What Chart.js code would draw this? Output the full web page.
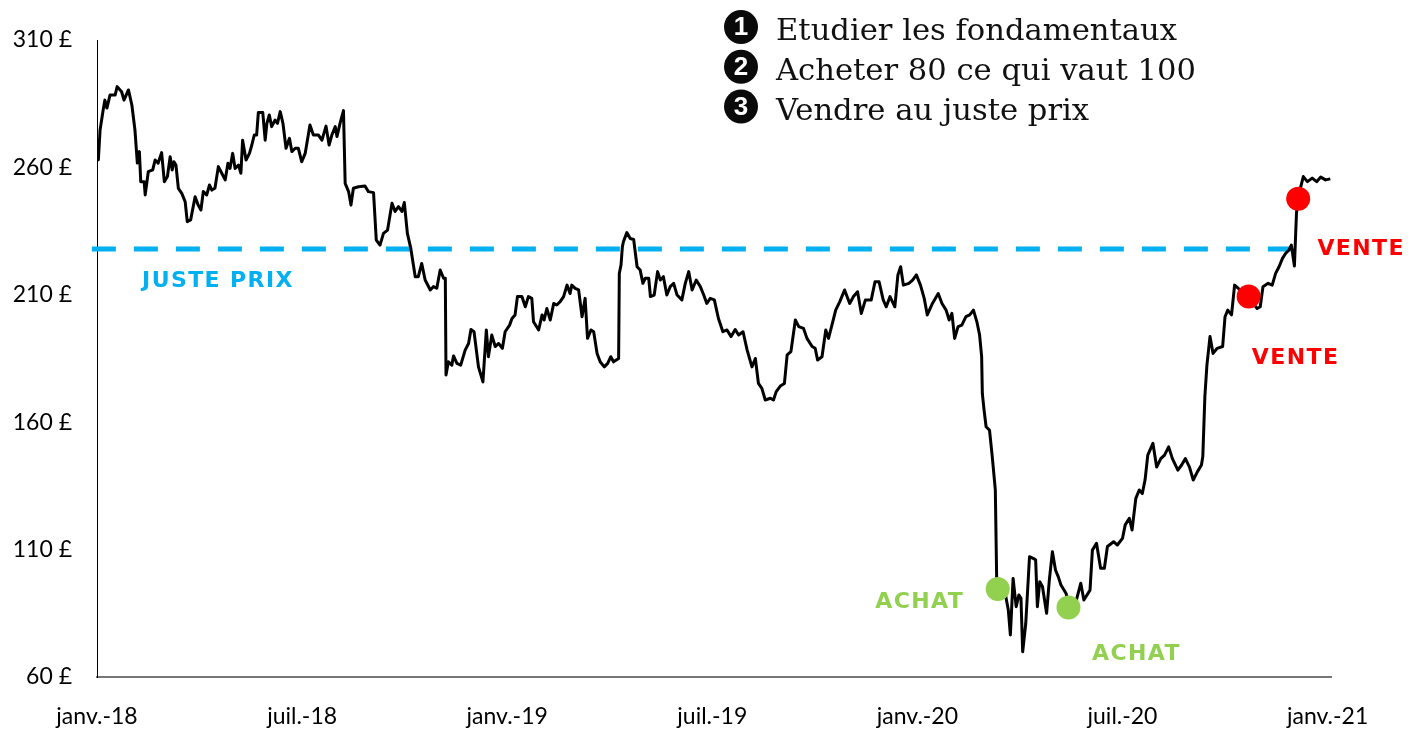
<!DOCTYPE html>
<html>
<head>
<meta charset="utf-8">
<script src="https://cdn.jsdelivr.net/npm/chart.js@4.4.1/dist/chart.umd.min.js"></script>
<style>
html,body{margin:0;padding:0;background:#fff;}
#wrap{width:1420px;height:730px;}
</style>
</head>
<body>
<div id="wrap"><canvas id="c" width="1420" height="730"></canvas></div>
<script>
// x = months since 1 Jan 2018, y = price in £
const months = [0.01,0.04,0.09,0.18,0.23,0.29,0.38,0.53,0.59,0.72,0.79,0.92,1.02,1.11,1.18,1.24,1.28,1.38,1.41,1.50,
1.63,1.70,1.79,1.89,1.97,2.06,2.14,2.20,2.25,2.31,2.38,2.48,2.58,2.64,2.74,2.87,2.96,3.04,3.11,3.21,
3.29,3.36,3.45,3.55,3.65,3.75,3.83,3.89,3.97,4.04,4.14,4.21,4.26,4.36,4.46,4.53,4.60,4.67,4.72,4.85,
4.92,4.97,5.04,5.11,5.21,5.28,5.36,5.44,5.53,5.63,5.70,5.80,5.89,5.99,6.09,6.23,6.33,6.48,6.58,6.70,
6.79,6.87,6.97,7.02,7.11,7.21,7.26,7.36,7.43,7.50,7.65,7.84,7.94,8.09,8.17,8.28,8.38,8.50,8.63,8.72,
8.82,8.92,8.99,9.08,9.18,9.31,9.40,9.50,9.60,9.75,9.84,9.94,10.04,10.14,10.19,10.21,10.28,10.38,10.43,10.53,
10.64,10.77,10.87,10.94,11.03,11.16,11.29,11.39,11.45,11.55,11.65,11.75,11.86,11.94,12.07,12.14,12.23,12.30,12.43,12.53,
12.62,12.72,12.77,12.92,13.02,13.08,13.16,13.26,13.36,13.45,13.55,13.65,13.75,13.84,13.89,13.99,14.09,14.19,14.28,14.35,
14.45,14.53,14.63,14.72,14.84,14.94,15.03,15.11,15.26,15.28,15.33,15.37,15.40,15.50,15.60,15.70,15.80,15.89,15.97,16.04,
16.14,16.19,16.30,16.40,16.48,16.57,16.67,16.77,16.87,16.97,17.11,17.21,17.31,17.41,17.53,17.65,17.75,17.84,17.94,18.06,
18.18,18.31,18.43,18.55,18.67,18.77,18.90,19.02,19.16,19.26,19.35,19.45,19.55,19.70,19.79,19.87,19.99,20.11,20.19,20.30,
20.43,20.53,20.67,20.77,20.92,21.01,21.08,21.21,21.32,21.40,21.50,21.61,21.73,21.87,22.02,22.13,22.25,22.36,22.48,22.65,
22.76,22.88,23.00,23.09,23.20,23.34,23.43,23.51,23.59,23.75,23.86,23.97,24.09,24.20,24.29,24.44,24.61,24.72,24.84,24.93,
25.01,25.09,25.19,25.30,25.42,25.53,25.64,25.74,25.82,25.88,25.90,25.95,26.01,26.11,26.19,26.28,26.32,26.36,26.57,26.66,
26.72,26.80,26.89,26.97,27.03,27.08,27.17,27.28,27.40,27.46,27.51,27.58,27.66,27.78,27.86,27.95,28.04,28.12,28.20,28.35,
28.44,28.64,28.78,28.87,29.05,29.12,29.24,29.36,29.47,29.56,29.74,29.85,30.00,30.08,30.20,30.28,30.39,30.49,30.58,30.66,
30.74,30.89,31.00,31.12,31.23,31.35,31.46,31.62,31.73,31.84,31.96,32.07,32.19,32.31,32.35,32.41,32.47,32.56,32.65,32.77,
32.93,33.00,33.08,33.19,33.28,33.39,33.54,33.74,33.94,34.03,34.11,34.26,34.38,34.48,34.58,34.68,34.77,34.87,34.94,35.03,
35.09,35.13,35.29,35.41,35.55,35.68,35.80,35.94,36.08];
const prices = [262.9,263.0,274.7,282.5,286.4,283.3,288.4,288.4,291.7,289.7,286.4,290.4,284.5,274.7,261.7,266.2,254.4,254.4,249.2,258.3,
259.0,262.9,261.7,265.8,254.4,256.4,264.2,259.0,262.2,260.9,251.8,249.8,246.5,238.7,239.4,248.5,245.2,243.3,250.5,249.2,
253.1,251.1,251.8,260.3,257.7,255.1,261.6,259.6,265.5,259.6,260.9,257.7,270.7,262.9,265.5,268.8,272.7,272.7,281.5,281.5,
270.7,277.3,280.6,276.0,278.6,277.3,281.9,277.3,267.5,271.4,266.2,267.5,267.5,262.2,265.5,276.6,272.7,272.7,270.7,276.2,
268.8,272.7,276.0,272.1,277.3,282.3,253.7,250.5,245.2,251.8,252.4,252.7,250.5,250.1,231.5,229.5,234.1,235.4,245.9,242.7,
244.6,242.7,246.2,234.1,228.2,217.1,217.1,222.3,215.8,211.9,213.2,212.6,219.7,216.5,216.5,178.5,183.7,182.4,186.0,183.1,
182.4,188.3,190.9,196.4,195.5,181.7,175.8,196.2,185.7,194.2,189.7,190.9,189.0,195.5,198.1,200.7,202.1,209.3,209.3,205.3,
209.3,208.6,199.4,196.2,202.1,200.1,204.6,200.1,206.6,206.0,207.3,209.3,213.8,210.5,213.8,212.5,211.9,201.4,208.6,192.9,
196.2,195.5,187.0,183.7,181.7,183.1,185.7,183.7,185.0,218.4,221.7,228.9,230.8,234.4,232.1,231.7,221.0,219.7,214.5,216.5,
216.5,209.3,209.9,219.1,215.8,217.1,209.9,213.2,214.5,209.9,208.0,214.5,219.1,211.9,215.8,213.2,209.9,206.6,208.6,208.0,
200.7,195.5,196.2,193.6,196.4,194.2,195.5,188.3,181.7,185.0,175.2,173.3,168.7,169.4,168.7,172.0,174.2,175.2,186.4,187.7,
200.1,197.5,196.8,192.9,189.7,189.0,184.4,185.7,196.2,192.9,198.1,204.0,207.3,211.9,206.6,209.3,211.2,202.7,208.0,208.0,
215.1,215.1,208.0,205.3,209.3,205.3,217.8,221.0,213.8,214.5,215.8,217.8,213.8,208.6,202.1,206.6,210.5,206.6,204.0,200.1,
202.7,192.9,197.5,198.1,201.4,202.1,204.0,199.4,194.2,185.7,171.3,164.8,158.2,156.9,146.5,133.4,98.1,95.4,92.8,86.3,
76.5,98.7,87.6,92.2,90.9,69.9,81.0,107.2,106.5,105.9,87.6,97.4,95.4,85.0,98.1,109.2,102.0,99.4,96.1,92.8,
87.6,89.6,96.8,90.2,94.1,109.8,112.5,102.7,102.7,111.2,113.1,111.8,114.4,119.7,122.3,117.7,130.1,133.4,132.0,137.3,
147.1,151.7,142.4,145.7,147.1,150.3,145.7,141.2,143.2,145.7,142.4,137.3,140.5,143.2,146.5,170.0,182.4,193.6,187.0,189.0,
189.7,201.4,204.0,202.1,213.8,212.5,210.0,208.0,204.6,205.3,213.2,214.5,213.8,218.4,221.0,224.3,226.2,227.6,229.5,221.3,
242.0,247.8,256.4,254.4,255.8,254.4,256.2,255.1,255.5];

const xTickMonths = [0, 6, 12, 18, 24, 30, 36];
const xTickLabels = ['janv.-18', 'juil.-18', 'janv.-19', 'juil.-19', 'janv.-20', 'juil.-20', 'janv.-21'];
const yTickValues = [60, 110, 160, 210, 260, 310];

const justePrix = 228;
const justePrixMonths = [-0.15, 35.0];

const achatMonths = [26.35, 28.42];
const achatPrices = [94.5, 87.3];
const venteMonths = [33.69, 35.14];
const ventePrices = [209.3, 247.7];

const stepTexts = ['Etudier les fondamentaux', 'Acheter 80 ce qui vaut 100', 'Vendre au juste prix'];
const noteTexts = { juste: 'JUSTE PRIX', achat: 'ACHAT', vente: 'VENTE' };

const BLUE = '#00B0F0', GREEN = '#92D050', RED = '#FF0000';

const notesPlugin = {
  id: 'notes',
  afterDatasetsDraw(chart) {
    const { ctx } = chart;
    const x = chart.scales.x, y = chart.scales.y;
    ctx.save();
    ctx.font = 'bold 22px "DejaVu Sans"';
    ctx.letterSpacing = '1.4px';
    ctx.textAlign = 'center';
    ctx.textBaseline = 'middle';
    ctx.fillStyle = BLUE;
    ctx.fillText(noteTexts.juste, 218, y.getPixelForValue(justePrix) + 32);
    ctx.fillStyle = GREEN;
    ctx.fillText(noteTexts.achat, x.getPixelForValue(achatMonths[0]) - 78, y.getPixelForValue(achatPrices[0]) + 13);
    ctx.fillText(noteTexts.achat, x.getPixelForValue(achatMonths[1]) + 68, y.getPixelForValue(achatPrices[1]) + 47);
    ctx.fillStyle = RED;
    ctx.fillText(noteTexts.vente, x.getPixelForValue(venteMonths[0]) + 47, y.getPixelForValue(ventePrices[0]) + 62);
    ctx.fillText(noteTexts.vente, x.getPixelForValue(venteMonths[1]) + 63, y.getPixelForValue(ventePrices[1]) + 51);
    ctx.letterSpacing = '0px';

    // steps block
    stepTexts.forEach((t, i) => {
      const base = 40 + i * 39.75;
      const cy = base - 13;
      ctx.beginPath();
      ctx.arc(741, cy, 17, 0, Math.PI * 2);
      ctx.fillStyle = '#0a0a0a';
      ctx.fill();
      ctx.fillStyle = '#fff';
      ctx.font = 'bold 26px "Liberation Sans"';
      ctx.textAlign = 'center';
      ctx.textBaseline = 'middle';
      ctx.fillText(String(i + 1), 741, cy + 1);
      ctx.fillStyle = '#111';
      ctx.font = '30.6px "DejaVu Serif"';
      ctx.textAlign = 'left';
      ctx.textBaseline = 'alphabetic';
      ctx.fillText(t, 776, base);
    });
    ctx.restore();
  }
};

new Chart(document.getElementById('c'), {
  type: 'line',
  data: {
    datasets: [
      {
        type: 'scatter',
        data: achatMonths.map((m, i) => ({ x: m, y: achatPrices[i] })),
        pointRadius: 12, pointBackgroundColor: GREEN, pointBorderWidth: 0, showLine: false, order: 0
      },
      {
        type: 'scatter',
        data: venteMonths.map((m, i) => ({ x: m, y: ventePrices[i] })),
        pointRadius: 12, pointBackgroundColor: RED, pointBorderWidth: 0, showLine: false, order: 0
      },
      {
        data: months.map((m, i) => ({ x: m, y: prices[i] })),
        borderColor: '#000', borderWidth: 3, pointRadius: 0, tension: 0, fill: false, order: 1,
        borderJoinStyle: 'round'
      },
      {
        data: justePrixMonths.map(m => ({ x: m, y: justePrix })),
        borderColor: BLUE, borderWidth: 5, borderDash: [24, 18], pointRadius: 0, fill: false, order: 2,
        clip: false
      }
    ]
  },
  options: {
    responsive: false,
    animation: false,
    layout: { padding: { top: 40, right: 89, bottom: 0, left: 0 } },
    plugins: { legend: { display: false }, tooltip: { enabled: false } },
    scales: {
      x: {
        type: 'linear', min: 0, max: 36.1,
        afterBuildTicks: s => { s.ticks = xTickMonths.map(v => ({ value: v })); },
        afterFit: s => { s.height = 53; },
        grid: { display: false, drawTicks: false },
        border: { display: true, color: '#767676', width: 2 },
        ticks: {
          padding: 26, color: '#000', maxRotation: 0, autoSkip: false,
          font: { family: 'Lato', size: 23 },
          callback: v => xTickLabels[xTickMonths.indexOf(v)]
        }
      },
      y: {
        min: 60, max: 310,
        afterBuildTicks: s => { s.ticks = yTickValues.map(v => ({ value: v })); },
        afterFit: s => { s.width = 97; },
        grid: { display: false, drawTicks: false },
        border: { display: true, color: '#000', width: 1 },
        ticks: {
          padding: 25, color: '#000',
          font: { family: 'Lato', size: 23 },
          callback: v => v + ' £'
        }
      }
    }
  },
  plugins: [notesPlugin]
});
</script>
</body>
</html>
